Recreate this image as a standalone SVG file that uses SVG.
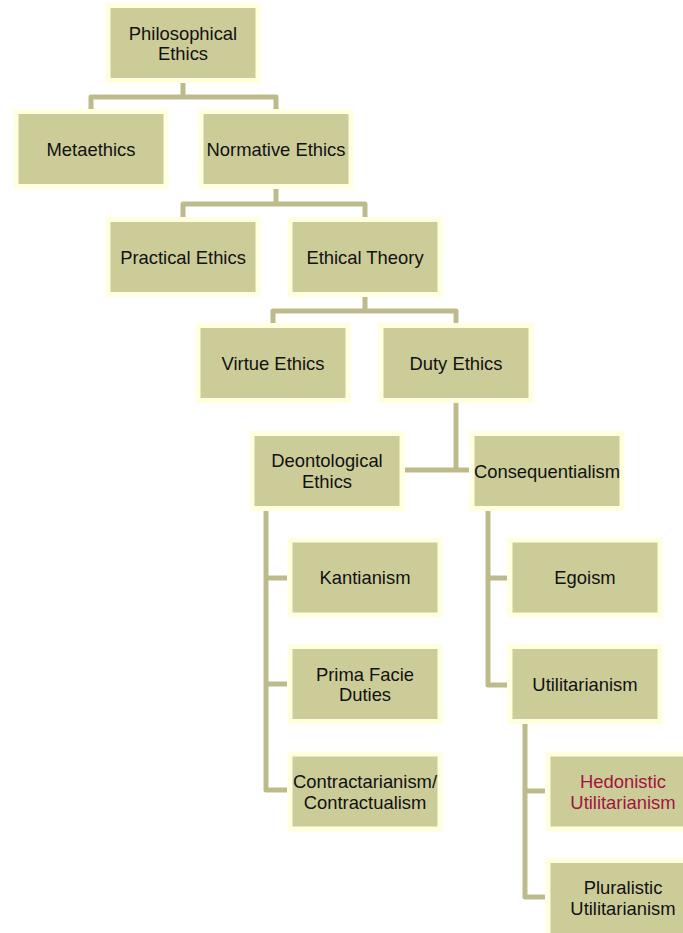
<svg xmlns="http://www.w3.org/2000/svg" width="683" height="933" viewBox="0 0 683 933">
<style>
.box{fill:#CCCC99;stroke:#FFFFE0;stroke-width:5}
.t{font-family:"Liberation Sans",Arial,sans-serif;font-size:18.4px;fill:#111;text-anchor:middle}
.red{fill:#A0153E}
.c{fill:none;stroke:#BDBB8C;stroke-width:5;stroke-linejoin:round;stroke-linecap:butt}
</style>
<rect width="683" height="933" fill="#fff"/>
<g id="connectors">
<path class="c" d="M183,83 V97 M91,109 V97 H276 V109"/>
<path class="c" d="M276,189 V204 M183,217 V204 H365 V217"/>
<path class="c" d="M365,297 V311 M273,323 V311 H456 V323"/>
<path class="c" d="M456,403 V470 M405,470 H469"/>
<path class="c" d="M266,511 V790 H287 M266,578 H287 M266,684 H287"/>
<path class="c" d="M488,511 V685 H507 M488,578 H507"/>
<path class="c" d="M525,724 V897 H545 M525,791 H545"/>
</g>
<g id="philosophical-ethics"><rect class="box" x="108" y="5.5" width="150" height="75"/><text class="t" x="183" y="39.5">Philosophical</text><text class="t" x="183" y="60">Ethics</text></g>
<g id="metaethics"><rect class="box" x="16" y="111.5" width="150" height="75"/><text class="t" x="91" y="155.5">Metaethics</text></g>
<g id="normative-ethics"><rect class="box" x="201" y="111.5" width="150" height="75"/><text class="t" x="276" y="155.5">Normative Ethics</text></g>
<g id="practical-ethics"><rect class="box" x="108" y="219.5" width="150" height="75"/><text class="t" x="183" y="263.5">Practical Ethics</text></g>
<g id="ethical-theory"><rect class="box" x="290" y="219.5" width="150" height="75"/><text class="t" x="365" y="263.5">Ethical Theory</text></g>
<g id="virtue-ethics"><rect class="box" x="198" y="325.5" width="150" height="75"/><text class="t" x="273" y="369.5">Virtue Ethics</text></g>
<g id="duty-ethics"><rect class="box" x="381" y="325.5" width="150" height="75"/><text class="t" x="456" y="369.5">Duty Ethics</text></g>
<g id="deontological-ethics"><rect class="box" x="252" y="433.5" width="150" height="75"/><text class="t" x="327" y="467">Deontological</text><text class="t" x="327" y="487.5">Ethics</text></g>
<g id="consequentialism"><rect class="box" x="472" y="433.5" width="150" height="75"/><text class="t" x="547" y="477.5">Consequentialism</text></g>
<g id="kantianism"><rect class="box" x="290" y="540" width="150" height="75"/><text class="t" x="365" y="584">Kantianism</text></g>
<g id="prima-facie-duties"><rect class="box" x="290" y="646.5" width="150" height="75"/><text class="t" x="365" y="680.5">Prima Facie</text><text class="t" x="365" y="701">Duties</text></g>
<g id="contractarianism"><rect class="box" x="290" y="754" width="150" height="75"/><text class="t" x="365" y="788">Contractarianism/</text><text class="t" x="365" y="808.5">Contractualism</text></g>
<g id="egoism"><rect class="box" x="510" y="540" width="150" height="75"/><text class="t" x="585" y="584">Egoism</text></g>
<g id="utilitarianism"><rect class="box" x="510" y="646.5" width="150" height="75"/><text class="t" x="585" y="690.5">Utilitarianism</text></g>
<g id="hedonistic-utilitarianism"><rect class="box" x="548" y="754" width="150" height="75"/><text class="t red" x="623" y="788">Hedonistic</text><text class="t red" x="623" y="808.5">Utilitarianism</text></g>
<g id="pluralistic-utilitarianism"><rect class="box" x="548" y="860.5" width="150" height="75"/><text class="t" x="623" y="894">Pluralistic</text><text class="t" x="623" y="914.5">Utilitarianism</text></g>
</svg>
